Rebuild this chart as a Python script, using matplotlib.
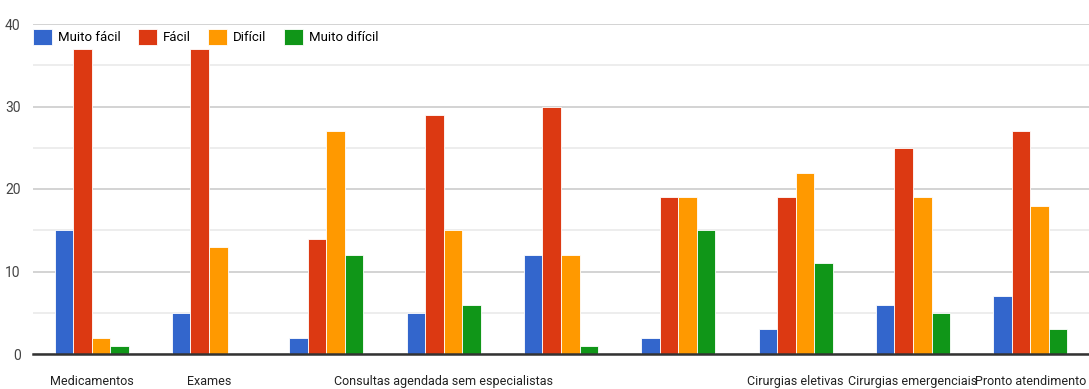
import matplotlib
matplotlib.use("Agg")
import matplotlib.pyplot as plt
import numpy as np

categories = ["Medicamentos", "Exames", "", "Consultas agendada sem especialistas", "", "",
              "Cirurgias eletivas", "Cirurgias emergenciais", "Pronto atendimento"]
series_names = ["Muito fácil", "Fácil", "Difícil", "Muito difícil"]
muito_facil = [15, 5, 2, 5, 12, 2, 3, 6, 7]
facil = [37, 37, 14, 29, 30, 19, 19, 25, 27]
dificil = [2, 13, 27, 15, 12, 19, 22, 19, 18]
muito_dificil = [1, 0, 12, 6, 1, 15, 11, 5, 3]
colors = ["#3366cc", "#dc3912", "#ff9900", "#109618"]

plt.rcParams['font.family'] = ['Roboto', 'DejaVu Sans']

fig = plt.figure(figsize=(10.89, 3.89), dpi=100)
ax = fig.add_axes([33 / 1089, 35 / 389, 1 - 33 / 1089, 330 / 389])

x = np.arange(len(categories))
bw = 0.158
values = [muito_facil, facil, dificil, muito_dificil]
for k, (vals, c, name) in enumerate(zip(values, colors, series_names)):
    ax.bar(x + (k - 1.5) * bw, vals, width=bw, color=c, edgecolor="white",
           linewidth=0.6, label=name, zorder=3)

ax.set_xlim(-0.5, len(categories) - 0.5)
ax.set_ylim(0, 40)
ax.set_yticks([0, 10, 20, 30, 40])
ax.set_yticks([5, 15, 25, 35], minor=True)
ax.grid(axis="y", which="major", color="#d0d0d0", linewidth=1.3, zorder=0)
ax.grid(axis="y", which="minor", color="#ececec", linewidth=1.3, zorder=0)
ax.set_xticks(x)
ax.set_xticklabels(categories, fontsize=9.0, color="#222222")
ax.tick_params(axis="x", length=0, pad=15)
ax.tick_params(axis="y", which="both", length=0, pad=9, labelsize=10, labelcolor="#444444")
for s in ["top", "right", "left"]:
    ax.spines[s].set_visible(False)
ax.spines["bottom"].set_color("#333333")
ax.spines["bottom"].set_linewidth(1.8)
ax.spines["bottom"].set_zorder(4)

leg = ax.legend(loc="upper left", bbox_to_anchor=(0.0, 0.985), ncol=4, frameon=False,
                fontsize=9.5, handlelength=1.45, handleheight=1.45, handletextpad=0.45,
                columnspacing=1.3, borderaxespad=0.0, borderpad=0.0)
leg.set_zorder(5)

fig.savefig("out.png", dpi=100)
